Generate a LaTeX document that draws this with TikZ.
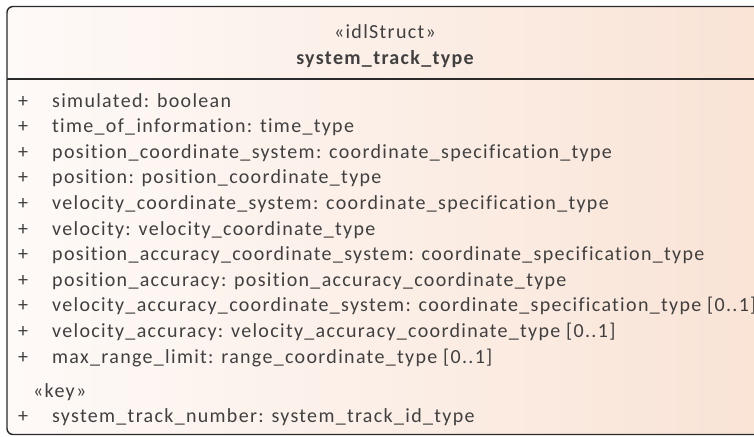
\documentclass[tikz,border=0pt]{standalone}
\usepackage{fontspec}
\setmainfont{Carlito}[LetterSpace=6.6,Ligatures=NoCommon]
\usetikzlibrary{positioning}
\definecolor{boxleft}{HTML}{FEFAF8}
\definecolor{boxright}{HTML}{F9E3D5}
\definecolor{boxline}{HTML}{2A2A2A}
\definecolor{attrtext}{HTML}{404040}
\tikzset{class box/.style={draw=boxline,line width=1.4pt,rounded corners=6pt,left color=boxleft,right color=boxright},
         attr/.style={anchor=base west,inner sep=0pt,text=attrtext,font=\fontsize{20}{24}\selectfont},
         title/.style={anchor=base,inner sep=0pt,text=attrtext,font=\fontsize{20}{24}\selectfont},
            }
\newcommand{\vis}{\makebox[34pt][l]{+}}

\begin{document}
\begin{tikzpicture}[x=1pt,y=-1pt]

    \path[use as bounding box,clip] (0,0) rectangle (754,436);
    \shade[class box] (7,6.5) rectangle (775,434.5);
    \draw[boxline,line width=1.4pt] (7,79) -- (775,79);

    \node[title] (stereo) at (385,39) {«idlStruct»};
    \node[title,font=\fontsize{20}{24}\selectfont\bfseries] (name) at (385,64) {system\_track\_type};

    \node[attr] (a1)  at (18,107)   {\vis simulated: boolean};
    \node[attr] (a2)  at (18,132.6) {\vis time\_of\_information: time\_type};
    \node[attr] (a3)  at (18,158.2) {\vis position\_coordinate\_system: coordinate\_specification\_type};
    \node[attr] (a4)  at (18,183.8) {\vis position: position\_coordinate\_type};
    \node[attr] (a5)  at (18,209.4) {\vis velocity\_coordinate\_system: coordinate\_specification\_type};
    \node[attr] (a6)  at (18,235)   {\vis velocity: velocity\_coordinate\_type};
    \node[attr] (a7)  at (18,260.6) {\vis position\_accuracy\_coordinate\_system: coordinate\_specification\_type};
    \node[attr] (a8)  at (18,286.2) {\vis position\_accuracy: position\_accuracy\_coordinate\_type};
    \node[attr] (a9)  at (18,311.8) {\vis velocity\_accuracy\_coordinate\_system: coordinate\_specification\_type [0..1]};
    \node[attr] (a10) at (18,337.4) {\vis velocity\_accuracy: velocity\_accuracy\_coordinate\_type [0..1]};
    \node[attr] (a11) at (18,363)   {\vis max\_range\_limit: range\_coordinate\_type [0..1]};

    \node[attr] (key) at (33,397.5) {«key»};
    \node[attr] (k1)  at (18,422)   {\vis system\_track\_number: system\_track\_id\_type};

\end{tikzpicture}
\end{document}
